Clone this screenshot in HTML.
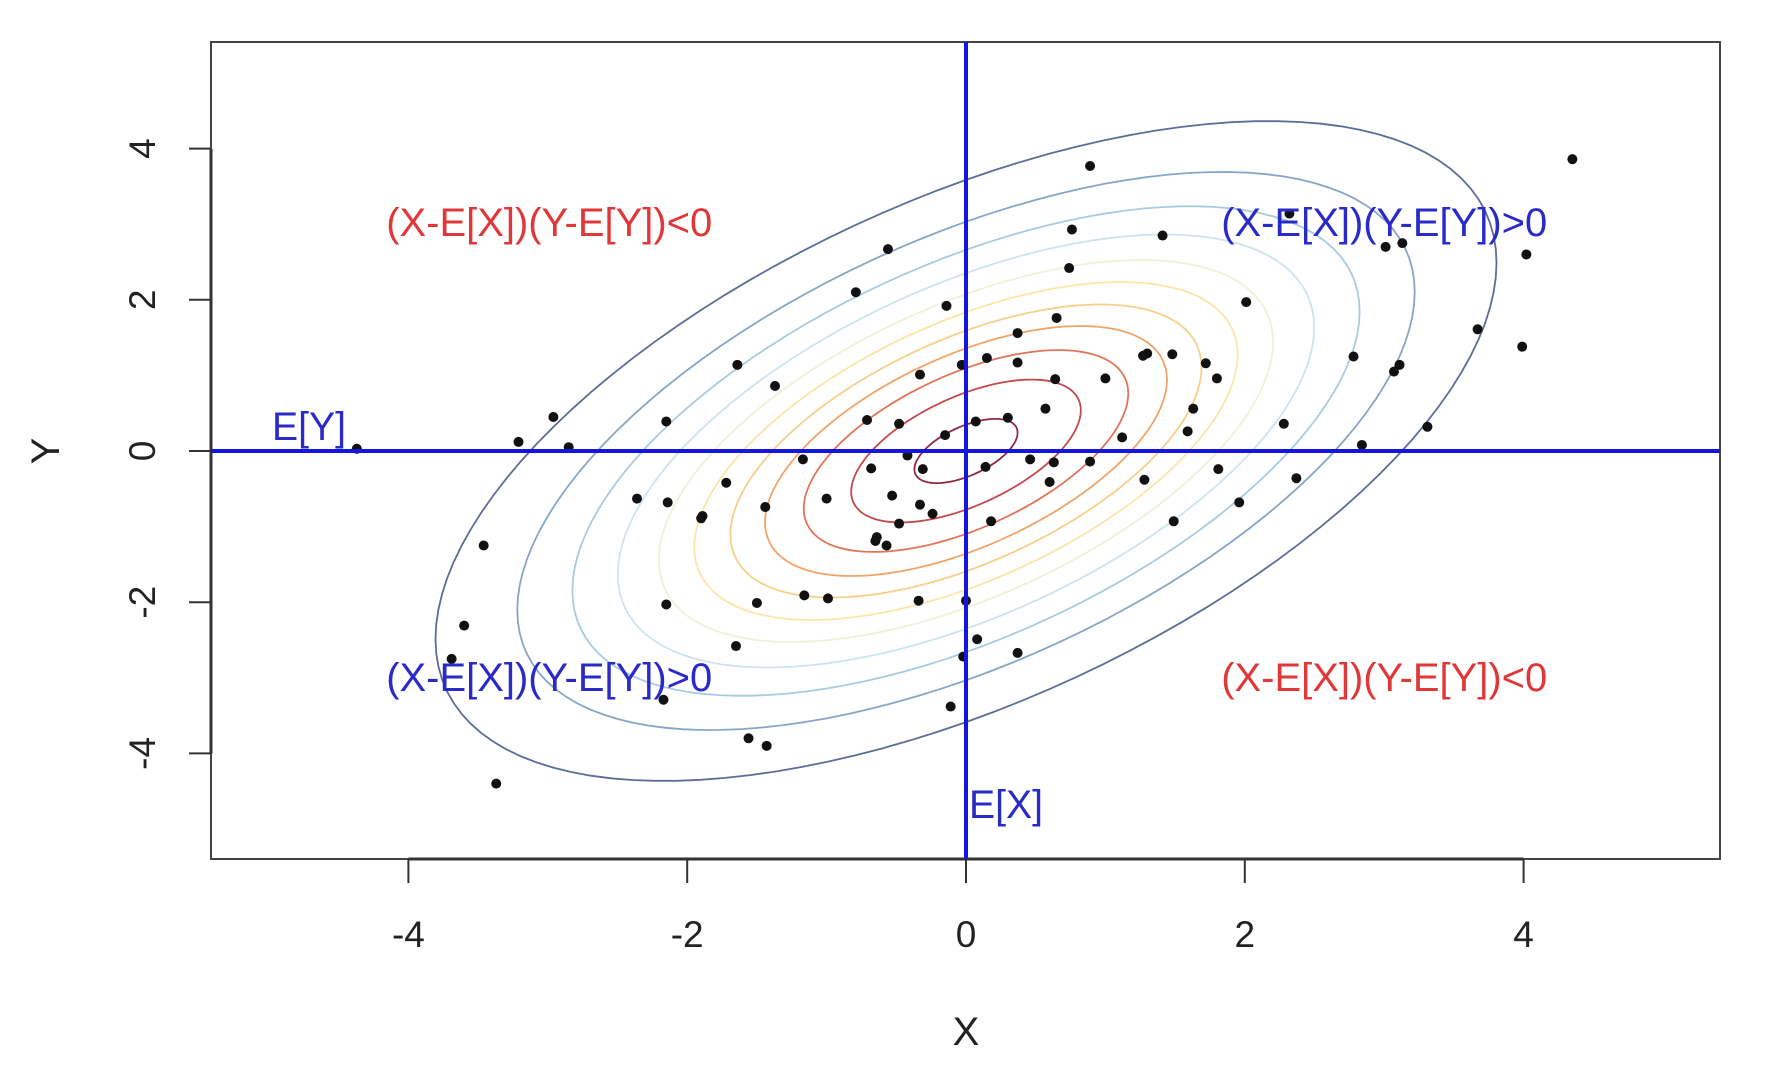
<!DOCTYPE html>
<html><head><meta charset="utf-8"><style>
html,body{margin:0;padding:0;background:#fff;}
svg{display:block;font-family:"Liberation Sans",sans-serif;}
</style></head><body>
<svg id="chart" width="1777" height="1074" viewBox="0 0 1777 1074" xmlns="http://www.w3.org/2000/svg">
<rect x="0" y="0" width="1777" height="1074" fill="#fff"/>
<g id="contours"></g>
<g id="points"></g>
<g id="axes"></g>
<g id="annot"></g>
</svg>
<script>
const xs = [0.89,4.35,0.76,1.41,-0.56,2.32,3.01,3.13,4.02,0.74,-0.79,-0.14,2.01,0.65,0.37,3.67,3.99,-1.64,0.15,-0.03,0.37,1.27,1.30,1.48,1.72,2.78,3.07,3.11,-0.33,-1.37,1.00,0.64,1.80,0.57,1.63,-0.71,-0.48,-0.15,0.07,0.30,1.59,1.12,-2.96,-2.15,-3.21,-2.85,2.28,2.84,3.31,-4.37,-0.42,-0.31,-0.68,-1.17,0.14,0.46,0.63,0.89,1.81,2.37,0.60,1.28,-1.72,-0.53,-1.00,-1.44,-0.33,-0.24,-2.36,-2.14,1.96,-1.89,-1.90,0.18,-0.48,1.49,-0.64,-0.57,-0.65,-3.46,-1.16,-0.99,-1.50,-2.15,-0.34,0.00,-3.60,0.08,-1.65,-0.02,0.37,-3.69,-2.17,-0.11,-1.56,-1.43,-3.37];
const ys = [3.77,3.86,2.93,2.85,2.67,3.14,2.70,2.75,2.60,2.42,2.10,1.92,1.97,1.76,1.56,1.61,1.38,1.14,1.23,1.14,1.17,1.26,1.29,1.28,1.16,1.25,1.05,1.14,1.01,0.86,0.96,0.95,0.96,0.56,0.56,0.41,0.36,0.21,0.39,0.44,0.26,0.18,0.45,0.39,0.12,0.05,0.36,0.08,0.32,0.03,-0.06,-0.24,-0.23,-0.11,-0.21,-0.11,-0.15,-0.14,-0.24,-0.36,-0.41,-0.38,-0.42,-0.59,-0.63,-0.74,-0.71,-0.83,-0.63,-0.68,-0.68,-0.86,-0.89,-0.93,-0.96,-0.93,-1.14,-1.25,-1.19,-1.25,-1.91,-1.95,-2.01,-2.03,-1.98,-1.98,-2.31,-2.49,-2.58,-2.72,-2.67,-2.75,-3.29,-3.38,-3.80,-3.90,-4.40];
const xTicks = [-4,-2,0,2,4];
const yTicks = [-4,-2,0,2,4];
const levels = [0.04,0.10,0.17,0.25,0.34,0.43,0.53,0.63,0.74,0.86,0.97];
const levelColors = ["#5d6d98","#86a6c8","#a9cbe0","#cfe3ec","#f2f0d8","#fbe6a8","#f8cf8a","#f0a468","#e27458","#c24a4a","#8e2c44"];
const meanX = 0, meanY = 0;
const sdX = 1.5, sdY = 1.72, rho = 0.57;

const NS = "http://www.w3.org/2000/svg";
const X = v => 966 + 139.4 * v;
const Y = v => 451 - 75.6 * v;
const BL = 211, BR = 1720, BT = 42, BB = 859;
function mk(tag, attrs, parent){ const e = document.createElementNS(NS, tag); for (const k in attrs) e.setAttribute(k, attrs[k]); parent.appendChild(e); return e; }

const cg = document.getElementById('contours');
levels.forEach((p, i) => {
  const r = Math.sqrt(-2 * Math.log(p));
  let d = "";
  for (let k = 0; k <= 120; k++) {
    const t = k / 120 * 2 * Math.PI;
    const u = r * Math.cos(t), v = r * Math.sin(t);
    const x = meanX + sdX * u, y = meanY + sdY * (rho * u + Math.sqrt(1 - rho * rho) * v);
    d += (k ? "L" : "M") + X(x).toFixed(1) + "," + Y(y).toFixed(1);
  }
  const e = mk('path', {d: d + "Z", fill: "none", stroke: levelColors[i], "stroke-width": 1.8}, cg);
  
  
});

const pg = document.getElementById('points');
xs.forEach((x, i) => {
  const c = mk('circle', {cx: X(x), cy: Y(ys[i]), r: 5, fill: "#111"}, pg);
  
  
});

const ag = document.getElementById('axes');
const box = mk('rect', {x: BL, y: BT, width: BR - BL, height: BB - BT, fill: "none", stroke: "#444", "stroke-width": 2}, ag);


const xl = mk('line', {x1: X(xTicks[0]), x2: X(xTicks[xTicks.length-1]), y1: BB, y2: BB, stroke: "#333", "stroke-width": 3}, ag);


xTicks.forEach(t => {
  const l = mk('line', {x1: X(t), x2: X(t), y1: BB, y2: BB + 24, stroke: "#333", "stroke-width": 2}, ag);
  
  
  const tx = mk('text', {x: X(t), y: 947, "font-size": 37, "text-anchor": "middle", fill: "#222"}, ag);
  tx.textContent = t;
  
  
});
const yl = mk('line', {x1: BL, x2: BL, y1: Y(yTicks[0]), y2: Y(yTicks[yTicks.length-1]), stroke: "#333", "stroke-width": 3}, ag);


yTicks.forEach(t => {
  const l = mk('line', {x1: BL - 22, x2: BL, y1: Y(t), y2: Y(t), stroke: "#333", "stroke-width": 2}, ag);
  
  
  const tx = mk('text', {x: 0, y: 0, "font-size": 37, "text-anchor": "middle", fill: "#222", transform: "translate(155," + Y(t) + ") rotate(-90)"}, ag);
  tx.textContent = t;
  
  
});

const an = document.getElementById('annot');
function T(x, y, s, color, size, anchor, len){
  const t = document.createElementNS(NS, 'text');
  t.setAttribute('x', x); t.setAttribute('y', y);
  t.setAttribute('font-size', size); t.setAttribute('fill', color);
  t.setAttribute('text-anchor', anchor || 'middle');
  if (len) { t.setAttribute('textLength', len); t.setAttribute('lengthAdjust', 'spacingAndGlyphs'); }
  t.textContent = s;
  an.appendChild(t);
  return t;
}
const hl = mk('line', {x1: BL, x2: BR, y1: Y(meanY), y2: Y(meanY), stroke: '#1515e0', "stroke-width": 4}, an);


const vl = mk('line', {x1: X(meanX), x2: X(meanX), y1: BT, y2: BB, stroke: '#1515e0', "stroke-width": 4}, an);



let e;
e = T(X(-2.99), Y(3.03) + 14, '(X-E[X])(Y-E[Y])<0', '#e03838', 40, 'middle', 326);


e = T(X(3.0), Y(3.03) + 14, '(X-E[X])(Y-E[Y])>0', '#2a2ac8', 40, 'middle', 326);


e = T(X(-2.99), Y(-2.99) + 14, '(X-E[X])(Y-E[Y])>0', '#2a2ac8', 40, 'middle', 326);


e = T(X(3.0), Y(-2.99) + 14, '(X-E[X])(Y-E[Y])<0', '#e03838', 40, 'middle', 326);


e = T(272, 440, 'E[Y]', '#2a2ac8', 40, 'start', 74);


e = T(969, 818, 'E[X]', '#2a2ac8', 40, 'start', 74);


e = T(966, 1045, 'X', '#222', 40, 'middle');


e = T(0, 0, 'Y', '#222', 40, 'middle');
e.setAttribute('transform', 'translate(59,' + Y(0) + ') rotate(-90)');


</script>
</body></html>
